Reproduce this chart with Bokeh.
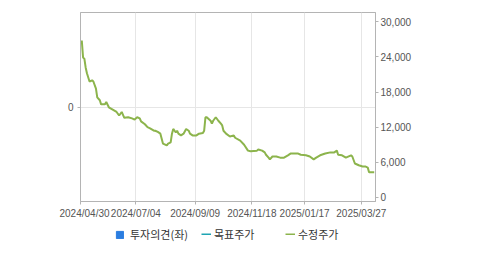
from bokeh.plotting import figure
from bokeh.models import (Range1d, LinearAxis, FixedTicker, Legend, LegendItem, Grid,
                          ColumnDataSource, NumeralTickFormatter, Spacer)
from bokeh.layouts import row, column
from bokeh.embed import file_html
from bokeh.resources import INLINE

# trading-day index since 2024/04/30 and adjusted price (수정주가)
days = [1, 2, 3, 4, 5, 7, 9, 10, 12, 13, 15, 16, 19, 20, 22, 25, 28, 30, 32, 34,
        37, 40, 42, 44, 46, 47, 50, 52, 54, 57, 58, 60, 62, 64, 67, 68, 70, 71, 72, 74,
        75, 76, 78, 80, 82, 84, 85, 87, 90, 92, 95, 96, 97, 98, 101, 102, 103, 105, 107, 109,
        110, 111, 113, 116, 119, 120, 124, 127, 130, 132, 137, 138, 141, 143, 144, 146, 147, 149, 152, 155,
        158, 161, 163, 166, 169, 171, 175, 178, 181, 183, 186, 190, 194, 197, 199, 200, 203, 206, 210, 211,
        213, 216, 219, 221, 223, 224, 227, 228]
prices = [26800, 23900, 23700, 22200, 21200, 19800, 20000, 19800, 18600, 17100, 16600, 15900, 15900, 16300, 15400, 15000, 14600, 14000, 14600, 13600,
          13700, 13500, 13300, 13700, 13500, 13000, 12500, 12000, 11800, 11400, 11400, 11200, 10900, 9200, 8900, 9200, 9400, 10900, 11700, 11100,
          11400, 10900, 10600, 10900, 11700, 11400, 10900, 10600, 10600, 10900, 11000, 11400, 13700, 13700, 13100, 12600, 13100, 13700, 13100, 12600,
          12300, 11400, 10900, 10400, 10600, 10200, 9700, 9000, 8000, 7900, 8000, 8200, 8000, 7700, 7300, 6800, 6500, 7000, 7000, 6800,
          6800, 7200, 7500, 7500, 7500, 7300, 7200, 7000, 6500, 6800, 7200, 7500, 7700, 7700, 8000, 7300, 7200, 6800, 7200, 7000,
          5800, 5500, 5300, 5300, 5100, 4300, 4300, 4300]

tick_days = [0, 43, 89, 133, 174, 218]
tick_labels = ["2024/04/30", "2024/07/04", "2024/09/09", "2024/11/18", "2025/01/17", "2025/03/27"]
price_ticks = [0, 6000, 12000, 18000, 24000, 30000]
opinion_ticks = [0]
legend_labels = ["투자의견(좌)", "목표주가", "수정주가"]

GRAY = "#b4b4b4"
LABEL = "#555555"
NUMFONT = "Liberation Sans"
KFONT = "Noto Sans CJK KR"
C_OP, C_TP, C_PX = "#2b7de0", "#1ea5b3", "#8cb44c"
NAN = float("nan")

p = figure(frame_width=295, frame_height=189, output_backend="svg", toolbar_location=None,
           x_range=Range1d(0, 229), y_range=Range1d(-1, 1),
           min_border_left=21, min_border_right=104, min_border_top=12, min_border_bottom=19,
           x_axis_location=None, y_axis_location=None)
p.background_fill_color = "white"
p.border_fill_color = "white"
p.outline_line_color = GRAY
p.outline_line_width = 1

p.extra_y_ranges = {"price": Range1d(-683, 31580)}

def style_axis(ax):
    ax.axis_line_color = GRAY
    ax.major_tick_line_color = GRAY
    ax.major_tick_out = 3
    ax.major_tick_in = 0
    ax.minor_tick_line_color = None
    ax.major_label_text_font = NUMFONT
    ax.major_label_text_font_size = "10px"
    ax.major_label_text_color = LABEL

xaxis = LinearAxis(ticker=FixedTicker(ticks=tick_days),
                   major_label_overrides={d: l for d, l in zip(tick_days, tick_labels)})
style_axis(xaxis)
xaxis.major_label_standoff = 3
p.add_layout(xaxis, "below")

laxis = LinearAxis(ticker=FixedTicker(ticks=opinion_ticks))
style_axis(laxis)
laxis.major_label_standoff = 4
p.add_layout(laxis, "left")

raxis = LinearAxis(y_range_name="price", ticker=FixedTicker(ticks=price_ticks),
                   formatter=NumeralTickFormatter(format="0,0"))
style_axis(raxis)
raxis.major_label_standoff = 2
p.add_layout(raxis, "right")

p.xgrid.grid_line_color = None
p.ygrid.grid_line_color = None
p.add_layout(Grid(dimension=0, ticker=xaxis.ticker, grid_line_color="#e6e6e6"))
p.add_layout(Grid(dimension=1, ticker=laxis.ticker, grid_line_color="#e6e6e6"))

p.line(days, prices, y_range_name="price", line_color=C_PX, line_width=2)

# legend strip below the chart (series without visible data: NaN placeholders)
lf = figure(width=479, height=35, output_backend="svg", toolbar_location=None,
            x_range=Range1d(0, 1), y_range=Range1d(0, 1),
            min_border=0, x_axis_location=None, y_axis_location=None)
lf.outline_line_color = None
lf.xgrid.grid_line_color = None
lf.ygrid.grid_line_color = None
placeholder = ColumnDataSource(data=dict(x=[NAN], y=[NAN], l=[NAN], r=[NAN], t=[NAN], b=[NAN]))
r_op = lf.quad(left="l", right="r", top="t", bottom="b", source=placeholder,
               fill_color=C_OP, line_color=C_OP)
r_tp = lf.line("x", "y", source=placeholder, line_color=C_TP, line_width=2)
r_px = lf.line("x", "y", source=placeholder, line_color=C_PX, line_width=2)

def make_legend(label, rend, x, gw, gh, standoff):
    lg = Legend(items=[LegendItem(label=label, renderers=[rend])], location=(x, 14),
                orientation="horizontal", glyph_width=gw, glyph_height=gh,
                label_height=12, label_standoff=standoff, padding=0, margin=0, spacing=0,
                border_line_alpha=0, background_fill_alpha=0,
                label_text_font=KFONT, label_text_font_size="11px", label_text_color="#333333")
    lf.add_layout(lg, "center")

make_legend(legend_labels[0], r_op, 115, 9, 9, 6)
make_legend(legend_labels[1], r_tp, 201, 10, 2, 3)
make_legend(legend_labels[2], r_px, 285, 10, 2, 3)

layout = column(row(Spacer(width=59, height=220), p), lf)
open("out.html", "w").write(file_html(layout, INLINE))
